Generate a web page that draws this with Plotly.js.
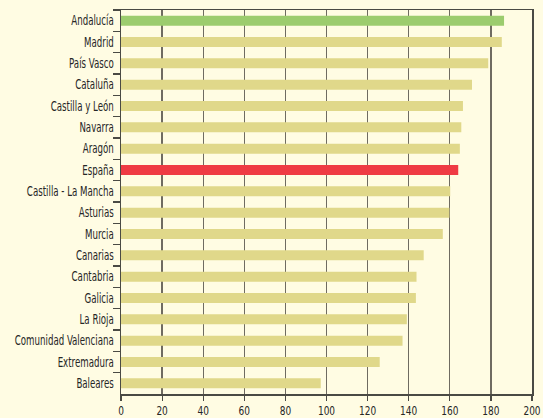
<!DOCTYPE html>
<html>
<head>
<meta charset="utf-8">
<script src="https://cdn.plot.ly/plotly-3.0.1.min.js"></script>
<style>
  html, body { margin: 0; padding: 0; background: #FFFCE3; }
  #chart { width: 543px; height: 418px; }
  /* narrow face for the axis labels */
  #chart .xtick text, #chart .ytick text { font-stretch: condensed; }
</style>
</head>
<body>
<div id="chart"></div>
<script>
// Regions, top to bottom
const regions = [
  "Andalucía", "Madrid", "País Vasco", "Cataluña", "Castilla y León",
  "Navarra", "Aragón", "España", "Castilla - La Mancha", "Asturias",
  "Murcia", "Canarias", "Cantabria", "Galicia", "La Rioja",
  "Comunidad Valenciana", "Extremadura", "Baleares"
];
const values = [
  186.4, 185.3, 178.7, 170.8, 166.4,
  165.6, 164.9, 164.1, 160.2, 159.8,
  156.6, 147.3, 143.8, 143.5, 139.1,
  137.0, 125.9, 97.2
];
const xTicks = [0, 20, 40, 60, 80, 100, 120, 140, 160, 180, 200];

// Highlighted bars: Andalucía in green, the national figure in red
const barColors = regions.map(r =>
  r === "Andalucía" ? "#9CCC6E" : (r === "España" ? "#EF3B44" : "#E0D88A"));

const trace = {
  type: "bar",
  orientation: "h",
  x: values,
  y: regions,
  marker: { color: barColors, line: { width: 0 } },
  hoverinfo: "x+y"
};

const labelFont = "DejaVu Sans Condensed, Liberation Sans Narrow, Arial Narrow, sans-serif";
const textColor = "#262626";

const layout = {
  width: 543,
  height: 418,
  margin: { l: 121, r: 11, t: 10, b: 24, pad: 0 },
  paper_bgcolor: "#FFFCE3",
  plot_bgcolor: "#FFFCE3",
  bargap: 0.53,
  showlegend: false,
  font: { family: labelFont, size: 13, color: textColor },
  xaxis: {
    range: [0, 200],
    tickvals: xTicks,
    ticktext: xTicks.map(String),
    ticklabeloverflow: "allow",
    showgrid: true,
    gridcolor: "#6F6B61",
    gridwidth: 1.4,
    zeroline: false,
    showline: true,
    linecolor: "#4A4A44",
    linewidth: 1.5,
    mirror: true,
    ticks: "outside",
    ticklen: 5,
    tickwidth: 1.2,
    tickcolor: "#4A4A44",
    ticklabelstandoff: -1,
    tickfont: { family: labelFont, size: 12.5, color: textColor },
    fixedrange: true
  },
  yaxis: {
    type: "category",
    autorange: "reversed",
    showgrid: false,
    zeroline: false,
    showline: true,
    linecolor: "#4A4A44",
    linewidth: 1.5,
    mirror: true,
    ticks: "outside",
    tickson: "boundaries",
    ticklen: 7,
    tickwidth: 1.2,
    tickcolor: "#4A4A44",
    ticklabelstandoff: 3,
    tickfont: { family: labelFont, size: 13.5, color: textColor },
    fixedrange: true
  }
};

// Squeeze tick labels horizontally into a narrow, tall letterform.
function narrowLabels(gd, selector, ratio) {
  gd.querySelectorAll(selector).forEach(t => {
    const w = t.getComputedTextLength();
    if (w > 0) {
      t.setAttribute("textLength", (w * ratio).toFixed(2));
      t.setAttribute("lengthAdjust", "spacingAndGlyphs");
    }
  });
}

const gd = document.getElementById("chart");
Plotly.newPlot(gd, [trace], layout, { displayModeBar: false, staticPlot: true }).then(() => {
  // width of the longest region label sets the squeeze ratio
  let longest = null;
  gd.querySelectorAll(".ytick text").forEach(t => {
    if (t.textContent === "Comunidad Valenciana") longest = t;
  });
  const yRatio = longest ? Math.min(1, 99 / longest.getComputedTextLength()) : 0.8;
  narrowLabels(gd, ".ytick text", yRatio);
  narrowLabels(gd, ".xtick text", 0.8);
});
</script>
</body>
</html>
